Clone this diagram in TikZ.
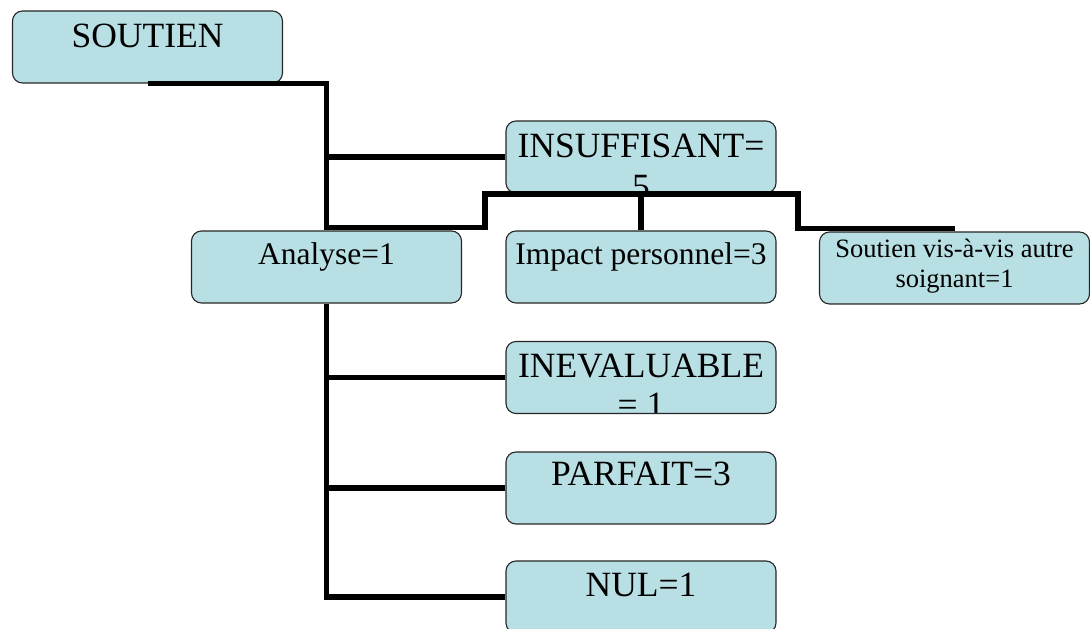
\documentclass[tikz,border=0pt]{standalone}
\usepackage{fontspec}
\setmainfont{Liberation Serif}
\usepackage{tikz}
\usepackage{xcolor}
\definecolor{chartteal}{HTML}{B8DFE3}
\newcommand{\bigtxt}{\fontsize{35.5}{40}\selectfont}
\newcommand{\midtxt}{\fontsize{31.5}{36}\selectfont}
\newcommand{\smalltxt}{\fontsize{26.5}{30}\selectfont}

\begin{document}
\begin{tikzpicture}[x=1pt, y=1pt,
  box/.style={draw=black!85, fill=chartteal, rounded corners=10pt, line width=1.1pt,
              minimum width=270pt, minimum height=72pt, inner sep=0pt},
  % #2 = depth of the last baseline below the top edge
  boxtext/.style n args={3}{path picture={%
      \node[anchor=base, align=center, inner sep=0pt, font=#1]
        at ([yshift=-#2]path picture bounding box.north) {#3};}},
  link/.style={draw=black, line width=5.5pt}]
\useasboundingbox (0,0) rectangle (1090,629);

% boxes
\node[box, boxtext={\bigtxt}{37pt}{SOUTIEN}] (soutien) at (147.5,582) {};
\node[box, boxtext={\bigtxt}{78pt}{INSUFFISANT=\\[1pt]5}] (insuff) at (641,472) {};
\node[box, boxtext={\midtxt}{34pt}{Analyse=1}] (analyse) at (326.5,362) {};
\node[box, boxtext={\midtxt}{34pt}{Impact personnel=3}] (impact) at (641,362) {};
\node[box, boxtext={\smalltxt}{56pt}{Soutien vis-à-vis autre\\soignant=1}] (autre) at (954.5,361) {};
\node[box, boxtext={\bigtxt}{75pt}{INEVALUABLE\\[-1pt]= 1}] (ineval) at (641,251.5) {};
\node[box, boxtext={\bigtxt}{34pt}{PARFAIT=3}] (parfait) at (641,141) {};
\node[box, boxtext={\bigtxt}{36pt}{NUL=1}] (nul) at (641,32) {};

% connectors
\coordinate (barL) at (485,435);
\coordinate (barR) at (798,435);
\draw[link] (soutien.south) -| (analyse.north);
\draw[link] (insuff.west) -- (insuff.west -| analyse.north);
\draw[link] ([yshift=3pt]analyse.north) -| (barL) -- (barR) |- ([yshift=3pt]autre.north);
\draw[link] (insuff.south) -- (impact.north);
\draw[link] (analyse.south) |- (nul.west);
\foreach \n in {ineval, parfait}
  \draw[link] (\n.west) -- (\n.west -| analyse.south);
\end{tikzpicture}
\end{document}
